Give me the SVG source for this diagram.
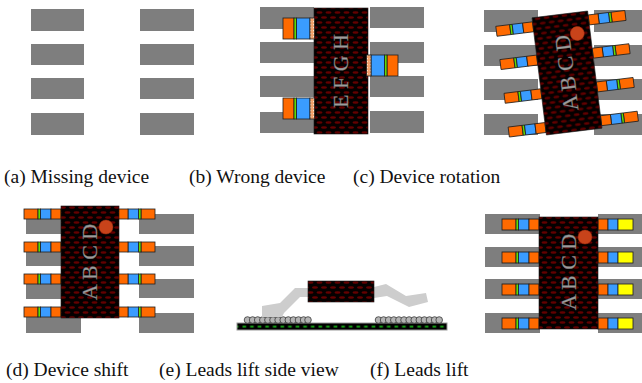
<svg xmlns="http://www.w3.org/2000/svg" xmlns:xlink="http://www.w3.org/1999/xlink" width="642" height="383" viewBox="0 0 642 383">
  <style>
    .pad { fill: #7e7e7e; }
    .chip { fill: url(#chipTex); stroke: #1a1a1a; stroke-width: 0.6; }
    .mark { font-family: "Liberation Serif", "Times New Roman", serif; font-size: 22px; fill: #9c9c9c; stroke: #666; stroke-width: 0.3; }
    .cap { font-family: "Liberation Serif", "Times New Roman", serif; font-size: 19.5px; fill: #111; }
    .seg { stroke: #1e1e1e; stroke-width: 0.8; }
    .or { fill: #ff6a00; }
    .bl { fill: #3a9cff; }
    .gr { fill: #62dc00; }
    .ye { fill: #ffff00; }
    .pl { fill: url(#paleTex); }
    .dot { fill: #c8431a; stroke: #a83010; stroke-width: 0.5; }
    .ball { fill: #b4b4b4; stroke: #3a3a3a; stroke-width: 0.8; }
    .sideLead { fill: #cdcdcd; }
  </style>
  <defs>
    <!-- moulded package texture: staggered dark red dimples on black -->
    <pattern id="chipTex" width="9" height="10" patternUnits="userSpaceOnUse">
      <rect width="9" height="10" fill="#050000"/>
      <ellipse cx="4.5" cy="2.5" rx="3" ry="1.3" fill="#640000"/>
      <ellipse cx="0" cy="7.5" rx="3" ry="1.3" fill="#640000"/>
      <ellipse cx="9" cy="7.5" rx="3" ry="1.3" fill="#640000"/>
    </pattern>
    <pattern id="paleTex" width="3" height="3" patternUnits="userSpaceOnUse">
      <rect width="3" height="3" fill="#f2a06a"/>
      <rect width="1.2" height="1.2" fill="#fde2cc"/>
    </pattern>
    <!-- board cross-section: black laminate with green copper dashes -->
    <pattern id="boardTex" x="242" y="323" width="7.6" height="7" patternUnits="userSpaceOnUse">
      <rect width="7.6" height="7" fill="#000"/>
      <rect x="0.5" y="2.6" width="3.6" height="2" fill="#169a16"/>
    </pattern>
    <!-- lead: outer tip at x=0, body end at x=37 -->
    <g id="leadA" class="seg">
      <rect x="0" y="0" width="14" height="10" class="or"/>
      <rect x="14" y="0" width="2.5" height="10" class="gr"/>
      <rect x="16.5" y="0" width="10.5" height="10" class="bl"/>
      <rect x="27" y="0" width="10" height="10" class="or"/>
    </g>
    <!-- wrong-device lead, wider -->
    <g id="leadB" class="seg">
      <rect x="0" y="0" width="11" height="21" class="or"/>
      <rect x="11" y="0" width="2.6" height="21" class="gr"/>
      <rect x="13.6" y="0" width="13.4" height="21" class="bl"/>
      <rect x="27" y="0" width="4.5" height="21" class="pl"/>
    </g>
    <!-- lifted-lead top view: body end at x=0 -->
    <g id="leadF" class="seg">
      <rect x="0" y="0" width="10" height="11" class="or"/>
      <rect x="10" y="0" width="10" height="11" class="bl"/>
      <rect x="20" y="0" width="15" height="11" class="ye"/>
    </g>
  </defs>

  <!-- (a) empty footprint -->
  <g id="panel-a">
    <rect class="pad" x="31" y="9" width="53" height="22"/>
    <rect class="pad" x="31" y="44" width="53" height="21"/>
    <rect class="pad" x="31" y="78" width="53" height="21"/>
    <rect class="pad" x="31" y="113" width="53" height="22"/>
    <rect class="pad" x="140" y="9" width="54" height="22"/>
    <rect class="pad" x="140" y="44" width="54" height="21"/>
    <rect class="pad" x="140" y="78" width="54" height="21"/>
    <rect class="pad" x="140" y="113" width="54" height="22"/>
  </g>

  <!-- (b) wrong device -->
  <g id="panel-b">
    <rect class="pad" x="260" y="7" width="54" height="22"/>
    <rect class="pad" x="260" y="42" width="54" height="21"/>
    <rect class="pad" x="260" y="76" width="54" height="21"/>
    <rect class="pad" x="260" y="112" width="54" height="21"/>
    <rect class="pad" x="370" y="7" width="54" height="21"/>
    <rect class="pad" x="370" y="42" width="54" height="21"/>
    <rect class="pad" x="370" y="76" width="54" height="21"/>
    <rect class="pad" x="370" y="111" width="54" height="22"/>
    <rect class="chip" x="314" y="8" width="54" height="126"/>
    <use xlink:href="#leadB" x="283" y="18"/>
    <use xlink:href="#leadB" x="283" y="98"/>
    <use xlink:href="#leadB" transform="translate(398,55) scale(-1,1)"/>
    <text class="mark" transform="translate(348,71) rotate(-90)" text-anchor="middle">E F G H</text>
  </g>

  <!-- (c) rotated device -->
  <g id="panel-c">
    <rect class="pad" x="484" y="10" width="54" height="22"/>
    <rect class="pad" x="484" y="45" width="54" height="21"/>
    <rect class="pad" x="484" y="79" width="54" height="21"/>
    <rect class="pad" x="484" y="114" width="54" height="21"/>
    <rect class="pad" x="594" y="10" width="48" height="22"/>
    <rect class="pad" x="594" y="45" width="48" height="21"/>
    <rect class="pad" x="594" y="79" width="48" height="21"/>
    <rect class="pad" x="594" y="114" width="48" height="21"/>
    <g transform="translate(567,73) rotate(-7)">
      <use xlink:href="#leadA" x="-65" y="-55"/>
      <use xlink:href="#leadA" x="-65" y="-21.5"/>
      <use xlink:href="#leadA" x="-65" y="12.5"/>
      <use xlink:href="#leadA" x="-65" y="46.5"/>
      <use xlink:href="#leadA" transform="translate(65,-55) scale(-1,1)"/>
      <use xlink:href="#leadA" transform="translate(65,-21.5) scale(-1,1)"/>
      <use xlink:href="#leadA" transform="translate(65,12.5) scale(-1,1)"/>
      <use xlink:href="#leadA" transform="translate(65,46.5) scale(-1,1)"/>
      <rect class="chip" x="-28" y="-59" width="56" height="118"/>
      <circle class="dot" cx="15" cy="-38" r="7"/>
      <text class="mark" transform="translate(7,0) rotate(-90)" text-anchor="middle">A B C D</text>
    </g>
  </g>

  <!-- (d) shifted device -->
  <g id="panel-d">
    <rect class="pad" x="26" y="213" width="55" height="21"/>
    <rect class="pad" x="26" y="246" width="55" height="20"/>
    <rect class="pad" x="26" y="279" width="55" height="20"/>
    <rect class="pad" x="26" y="312" width="55" height="21"/>
    <rect class="pad" x="139" y="214" width="55" height="20"/>
    <rect class="pad" x="139" y="246" width="55" height="20"/>
    <rect class="pad" x="139" y="279" width="55" height="19"/>
    <rect class="pad" x="139" y="313" width="55" height="20"/>
    <use xlink:href="#leadA" x="24" y="209"/>
    <use xlink:href="#leadA" x="24" y="242"/>
    <use xlink:href="#leadA" x="24" y="274"/>
    <use xlink:href="#leadA" x="24" y="307"/>
    <use xlink:href="#leadA" transform="translate(155,209) scale(-1,1)"/>
    <use xlink:href="#leadA" transform="translate(155,242) scale(-1,1)"/>
    <use xlink:href="#leadA" transform="translate(155,274) scale(-1,1)"/>
    <use xlink:href="#leadA" transform="translate(155,307) scale(-1,1)"/>
    <rect class="chip" x="61" y="206" width="58" height="112"/>
    <circle class="dot" cx="106" cy="227" r="7"/>
    <text class="mark" transform="translate(97,262) rotate(-90)" text-anchor="middle">A B C D</text>
  </g>

  <!-- (e) side view of lifted leads -->
  <g id="panel-e">
    <rect x="237" y="323" width="210" height="7" fill="url(#boardTex)" stroke="#9a9a9a" stroke-width="1"/>
    <g id="balls-left">
      <circle class="ball" cx="247.5" cy="320" r="3.3"/>
      <circle class="ball" cx="252.6" cy="320" r="3.3"/>
      <circle class="ball" cx="257.7" cy="320" r="3.3"/>
      <circle class="ball" cx="262.8" cy="320" r="3.3"/>
      <circle class="ball" cx="267.9" cy="320" r="3.3"/>
      <circle class="ball" cx="273.0" cy="320" r="3.3"/>
      <circle class="ball" cx="278.1" cy="320" r="3.3"/>
      <circle class="ball" cx="283.2" cy="320" r="3.3"/>
      <circle class="ball" cx="288.3" cy="320" r="3.3"/>
      <circle class="ball" cx="293.4" cy="320" r="3.3"/>
      <circle class="ball" cx="298.5" cy="320" r="3.3"/>
      <circle class="ball" cx="303.6" cy="320" r="3.3"/>
      <circle class="ball" cx="308.0" cy="320" r="3.3"/>
    </g>
    <g id="balls-right">
      <circle class="ball" cx="378.5" cy="320" r="3.3"/>
      <circle class="ball" cx="383.6" cy="320" r="3.3"/>
      <circle class="ball" cx="388.7" cy="320" r="3.3"/>
      <circle class="ball" cx="393.8" cy="320" r="3.3"/>
      <circle class="ball" cx="398.9" cy="320" r="3.3"/>
      <circle class="ball" cx="404.0" cy="320" r="3.3"/>
      <circle class="ball" cx="409.1" cy="320" r="3.3"/>
      <circle class="ball" cx="414.2" cy="320" r="3.3"/>
      <circle class="ball" cx="419.3" cy="320" r="3.3"/>
      <circle class="ball" cx="424.4" cy="320" r="3.3"/>
      <circle class="ball" cx="429.5" cy="320" r="3.3"/>
      <circle class="ball" cx="434.6" cy="320" r="3.3"/>
      <circle class="ball" cx="439.2" cy="320" r="3.3"/>
    </g>
    <polygon class="sideLead" points="308,288 295,288 280,303 262,306 262,317 282,317 284,313 300,297 308,297"/>
    <polygon class="sideLead" points="374,287 386,284 406,296 426,293 428,302 409,307 387,296 374,298"/>
    <rect class="chip" x="308" y="281" width="66" height="21"/>
  </g>

  <!-- (f) lifted leads, top view -->
  <g id="panel-f">
    <rect class="pad" x="485" y="214" width="55" height="20"/>
    <rect class="pad" x="485" y="247" width="55" height="20"/>
    <rect class="pad" x="485" y="279" width="55" height="20"/>
    <rect class="pad" x="485" y="313" width="55" height="20"/>
    <rect class="pad" x="598" y="214" width="44" height="20"/>
    <rect class="pad" x="598" y="247" width="44" height="20"/>
    <rect class="pad" x="598" y="279" width="44" height="20"/>
    <rect class="pad" x="598" y="313" width="44" height="20"/>
    <use xlink:href="#leadA" transform="translate(502,219) scale(1,1.1)"/>
    <use xlink:href="#leadA" transform="translate(502,252) scale(1,1.1)"/>
    <use xlink:href="#leadA" transform="translate(502,284) scale(1,1.1)"/>
    <use xlink:href="#leadA" transform="translate(502,318) scale(1,1.1)"/>
    <use xlink:href="#leadF" x="598" y="219"/>
    <use xlink:href="#leadF" x="598" y="252"/>
    <use xlink:href="#leadF" x="598" y="284"/>
    <use xlink:href="#leadF" x="598" y="318"/>
    <rect class="chip" x="539" y="217" width="59" height="112"/>
    <circle class="dot" cx="585" cy="237" r="7"/>
    <text class="mark" transform="translate(576,272) rotate(-90)" text-anchor="middle">A B C D</text>
  </g>

  <!-- captions -->
  <g id="captions">
    <text class="cap" x="4" y="183">(a) Missing device</text>
    <text class="cap" x="189" y="183">(b) Wrong device</text>
    <text class="cap" x="353" y="183">(c) Device rotation</text>
    <text class="cap" x="6" y="376">(d) Device shift</text>
    <text class="cap" x="159" y="376">(e) Leads lift side view</text>
    <text class="cap" x="370" y="376">(f) Leads lift</text>
  </g>
</svg>
